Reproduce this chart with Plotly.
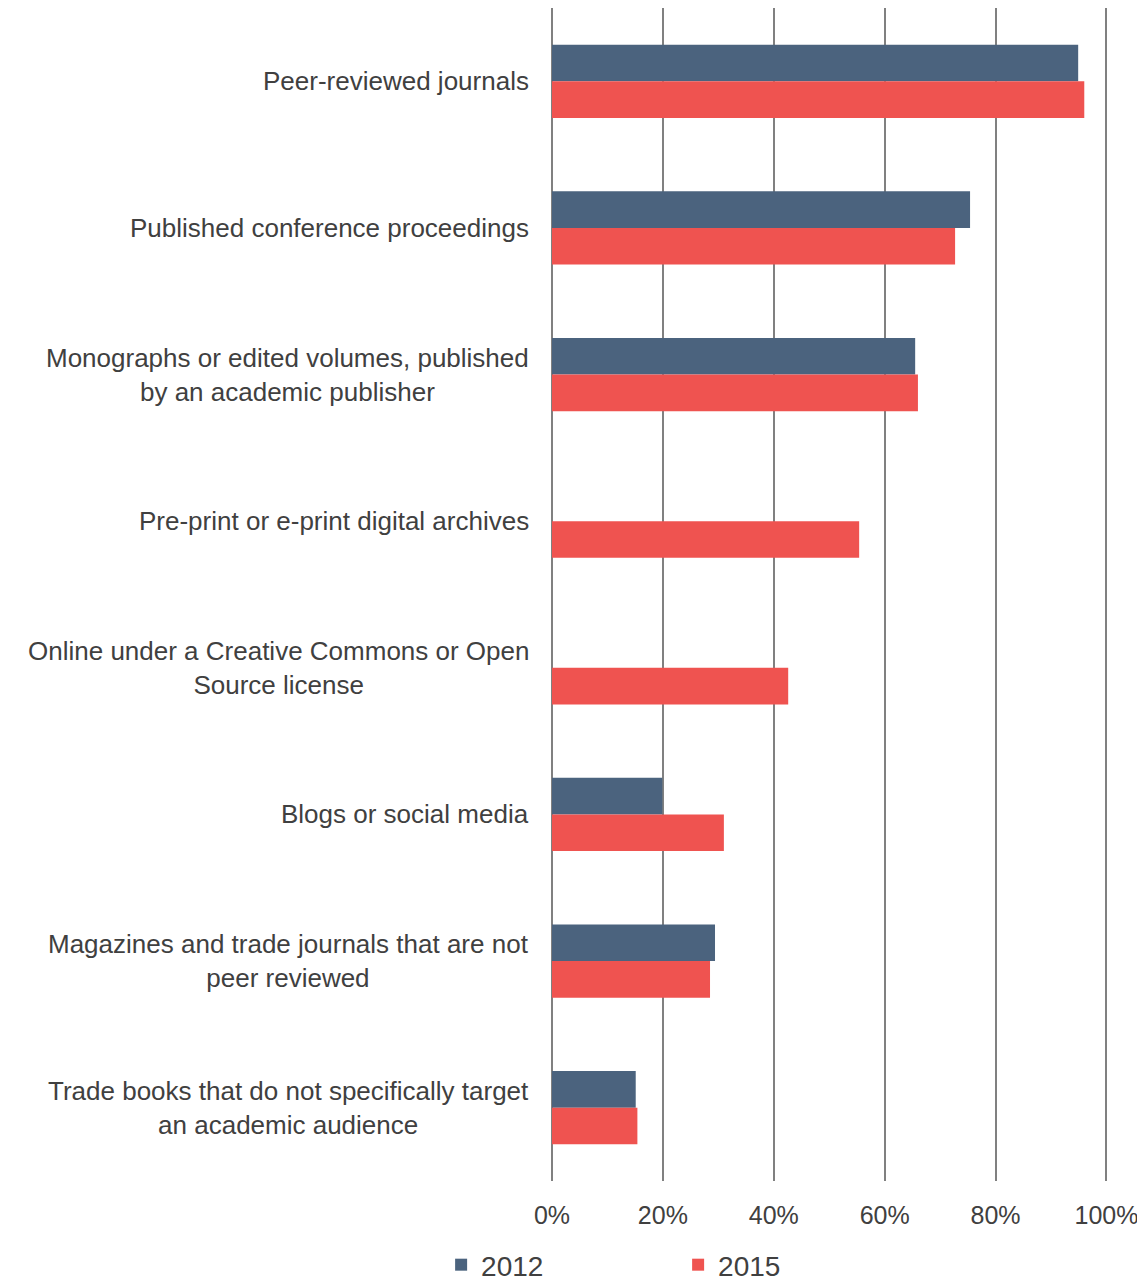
import plotly.graph_objects as go

categories = [
    "Peer-reviewed journals",
    "Published conference proceedings",
    "Monographs or edited volumes, published<br>by an academic publisher",
    "Pre-print or e-print digital archives",
    "Online under a Creative Commons or Open<br>Source license",
    "Blogs or social media",
    "Magazines and trade journals that are not<br>peer reviewed",
    "Trade books that do not specifically target<br>an academic audience",
]
series_names = ["2012", "2015"]
values_2012 = [0.949, 0.754, 0.655, None, None, 0.199, 0.294, 0.151]
values_2015 = [0.960, 0.727, 0.660, 0.554, 0.426, 0.310, 0.285, 0.154]
tick_vals = [0, 0.2, 0.4, 0.6, 0.8, 1.0]
tick_text = ["0%", "20%", "40%", "60%", "80%", "100%"]

colors = ["#4b637e", "#ef5350"]
font_family = "Liberation Sans, Arial, sans-serif"
text_color = "#404040"

fig = go.Figure()
for name, vals, col in zip(series_names, [values_2012, values_2015], colors):
    fig.add_trace(go.Bar(
        y=categories, x=vals, name=name, orientation="h",
        marker=dict(color=col, line=dict(width=0)),
        hoverinfo="x+name",
    ))

for cat in categories:
    fig.add_annotation(
        x=0, xref="paper", y=cat, yref="y",
        text=cat, showarrow=False, xanchor="right", yanchor="middle",
        align="center", xshift=-21,
        font=dict(family=font_family, size=26, color=text_color),
    )

fig.update_layout(
    width=1137, height=1275,
    margin=dict(l=544, r=33, t=0, b=102, autoexpand=False),
    plot_bgcolor="white", paper_bgcolor="white",
    barmode="group", bargap=0.5, bargroupgap=0,
    font=dict(family=font_family, size=24, color=text_color),
    legend=dict(
        orientation="h", x=-0.198, xanchor="left", y=-0.0716, yanchor="middle",
        font=dict(family=font_family, size=28, color=text_color),
        entrywidth=192, entrywidthmode="pixels",
        itemclick=False, itemdoubleclick=False,
    ),
    xaxis=dict(
        range=[0, 1.01], tickvals=tick_vals, ticktext=tick_text,
        showgrid=True, gridcolor="#808080", gridwidth=2,
        zeroline=True, zerolinecolor="#808080", zerolinewidth=2,
        showline=False, ticks="", ticklabelstandoff=17,
        tickfont=dict(family=font_family, size=25, color=text_color),
    ),
    yaxis=dict(
        autorange="reversed", showticklabels=False, showgrid=False,
        showline=False, ticks="", zeroline=False,
    ),
)

fig.write_html("out.html")
